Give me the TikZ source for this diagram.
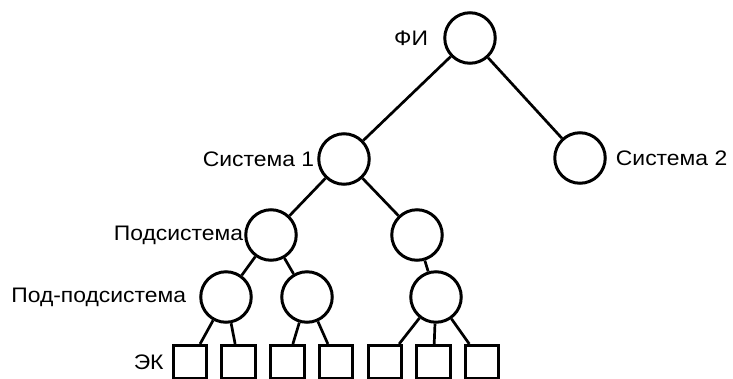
\documentclass[tikz,border=0pt]{standalone}
\usepackage{fontspec}
\setmainfont[FakeStretch=1.09]{Liberation Sans}
\usepackage{tikz}
\usetikzlibrary{positioning}
\tikzset{
  knot/.style={circle,draw,line width=3pt,minimum size=50.5pt,inner sep=0pt},
  elem/.style={rectangle,draw,line width=3pt,minimum size=33.5pt,inner sep=0pt},
  tag/.style={inner sep=0pt,font=\fontsize{21}{25}\selectfont},
  link/.style={line width=2.7pt}
}
\begin{document}
\begin{tikzpicture}[x=1pt,y=-1pt]
\useasboundingbox (0,0) rectangle (733,378);
\clip (0,0) rectangle (733,378);
\node (fi) at (470,38) [knot]{};
\node (sys1) at (344,159) [knot]{};
\node (sys2) at (580,158) [knot]{};
\node (pod1) at (271,235) [knot]{};
\node (pod2) at (417,235) [knot]{};
\node (pp1) at (226,297) [knot]{};
\node (pp2) at (307,297) [knot]{};
\node (pp3) at (436,297) [knot]{};
\foreach \i/\x in {1/190,2/238.7,3/287.4,4/336,5/384.8,6/433.5,7/482.2}
  \node (ek\i) at (\x,362.2) [elem]{};
\node (fitag) [tag,left=15pt of fi] {ФИ};
\node (sys1tag) [tag,left=3pt of sys1] {Система 1};
\node (sys2tag) [tag,right=9pt of sys2] {Система 2};
\node (podtag) [tag,left=1pt of pod1] {Подсистема};
\node (pptag) [tag,left=13pt of pp1] {Под-подсистема};
\node (ektag) [tag,left=8pt of ek1] {ЭК};
\draw[link] (fi) -- (sys1);
\draw[link] (fi) -- (sys2);
\draw[link] (sys1) -- (pod1);
\draw[link] (sys1) -- (pod2);
\draw[link] (pod1) -- (pp1);
\draw[link] (pod1) -- (pp2);
\draw[link] (pod2) -- (pp3);
\draw[link] (pp1) -- (ek1);
\draw[link] (pp1) -- (ek2);
\draw[link] (pp2) -- (ek3);
\draw[link] (pp2) -- (ek4);
\draw[link] (pp3) -- (ek5);
\draw[link] (pp3) -- (ek6);
\draw[link] (pp3) -- (ek7);
\end{tikzpicture}
\end{document}
